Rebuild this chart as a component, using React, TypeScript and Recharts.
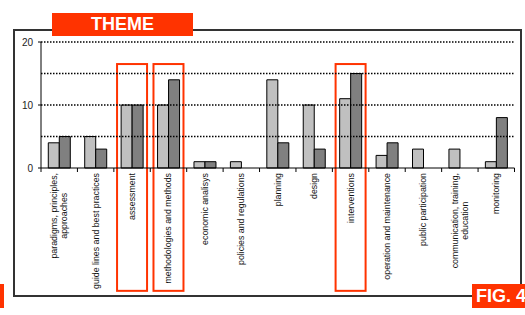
import React from "react";
import { Bar, BarChart, ReferenceArea, ReferenceLine, XAxis, YAxis } from "recharts";

const categories = [
  "paradigms, principles,\napproaches",
  "guide lines and best practices",
  "assessment",
  "methodologies and methods",
  "economic analisys",
  "policies and regulations",
  "planning",
  "design",
  "interventions",
  "operation and maintenance",
  "public participation",
  "communication, training,\neducation",
  "monitoring",
];
const lightValues = [4, 5, 10, 10, 1, 1, 14, 10, 11, 2, 3, 3, 1];
const darkValues = [5, 3, 10, 14, 1, 0, 4, 3, 15, 4, 0, 0, 8];
const yTicks = [0, 10, 20];
const gridValues = [5, 10, 15, 20];
const highlighted = ["assessment", "methodologies and methods", "interventions"];

const data = categories.map((name, i) => ({ name, light: lightValues[i], dark: darkValues[i] }));

const W = 525;
const H = 315;
const margin = { top: 42, right: 10.5, bottom: 0, left: 11 };
const Y_AXIS_W = 30;
const X_AXIS_H = 147;
const band = (W - margin.left - margin.right - Y_AXIS_W) / categories.length;
const plotBottom = H - margin.bottom - X_AXIS_H;

const RED = "#ff3300";
const LABEL_FONT = 8.8;
const FONT = "Arial, 'Liberation Sans', sans-serif";

let ctx: CanvasRenderingContext2D | null = null;
function textWidth(s: string) {
  if (!ctx) ctx = document.createElement("canvas").getContext("2d");
  if (!ctx) return s.length * 4.5;
  ctx.font = `${LABEL_FONT}px ${FONT}`;
  return ctx.measureText(s).width;
}

function CategoryTick(props: any) {
  const { x, index, payload } = props;
  const lines = String(payload.value).split("\n");
  const longest = Math.max(...lines.map(textWidth));
  const top = plotBottom + 5;
  return (
    <g>
      {index === 0 && <line x1={x - band / 2} x2={x - band / 2} y1={plotBottom} y2={plotBottom + 4} stroke="#000" />}
      <line x1={x + band / 2} x2={x + band / 2} y1={plotBottom} y2={plotBottom + 4} stroke="#000" />
      <g transform={`translate(${x},${top}) rotate(-90)`}>
        {lines.map((line, i) => (
          <text
            key={i}
            x={lines.length > 1 ? -longest / 2 : 0}
            y={(i - (lines.length - 1) / 2) * 10}
            textAnchor={lines.length > 1 ? "middle" : "end"}
            dominantBaseline="central"
            style={{ fontSize: `${LABEL_FONT}px`, fontFamily: FONT }}
            fill="#111"
          >
            {line}
          </text>
        ))}
      </g>
    </g>
  );
}

function HighlightBox(props: any) {
  const { x, y, height } = props;
  const cx = x + band / 2;
  return <rect x={cx - 15} y={y} width={30} height={height} fill="none" stroke={RED} strokeWidth={2} />;
}

export default function App() {
  return (
    <div style={{ position: "absolute", left: 0, top: 0, width: W, height: H, overflow: "hidden", background: "#fff" }}>
      <div
        style={{
          position: "absolute",
          left: 13,
          top: 29,
          width: 509,
          height: 268,
          border: "2px solid #333",
          boxSizing: "border-box",
        }}
      />
      <div style={{ position: "absolute", left: 0, top: 0 }}>
        <BarChart width={W} height={H} data={data} margin={margin} barCategoryGap="20%" barGap={0}>
          {gridValues.map((v) => (
            <ReferenceLine key={v} y={v} stroke="#000" strokeWidth={1.5} strokeDasharray="1.5 1.5" />
          ))}
          <XAxis
            dataKey="name"
            height={X_AXIS_H}
            interval={0}
            tickLine={false}
            tickSize={0}
            tickMargin={0}
            tick={<CategoryTick />}
            axisLine={{ stroke: "#000" }}
          />
          <YAxis
            domain={[0, 20]}
            ticks={yTicks}
            width={Y_AXIS_W}
            tickSize={3}
            tickMargin={5}
            tick={{ fontSize: 10, fontFamily: FONT, fill: "#222" }}
            axisLine={{ stroke: "#000" }}
            tickLine={{ stroke: "#000" }}
          />
          <YAxis
            yAxisId="r"
            orientation="right"
            domain={[0, 20]}
            width={0}
            tick={false}
            tickLine={false}
            axisLine={{ stroke: "#999" }}
          />
          <Bar dataKey="light" fill="#c0c0c0" stroke="#000" strokeWidth={1} isAnimationActive={false} />
          <Bar dataKey="dark" fill="#808080" stroke="#000" strokeWidth={1} isAnimationActive={false} />
          {highlighted.map((c) => (
            <ReferenceArea key={c} x1={c} x2={c} y1={-19.5} y2={16.5} ifOverflow="visible" shape={<HighlightBox />} />
          ))}
        </BarChart>
      </div>
      <div
        style={{
          position: "absolute",
          left: 52,
          top: 13,
          width: 141,
          height: 23,
          background: RED,
          color: "#fff",
          fontFamily: FONT,
          fontWeight: "bold",
          fontSize: 18,
          lineHeight: "23px",
          textAlign: "center",
        }}
      >
        THEME
      </div>
      <div
        style={{
          position: "absolute",
          left: 471.5,
          top: 284,
          width: 60,
          height: 24,
          background: RED,
          color: "#fff",
          fontFamily: FONT,
          fontWeight: "bold",
          fontSize: 18,
          lineHeight: "25px",
          paddingLeft: 4.5,
          boxSizing: "border-box",
          whiteSpace: "nowrap",
        }}
      >
        FIG. 4
      </div>
      <div style={{ position: "absolute", left: 0, top: 284, width: 4, height: 24, background: RED }} />
    </div>
  );
}
